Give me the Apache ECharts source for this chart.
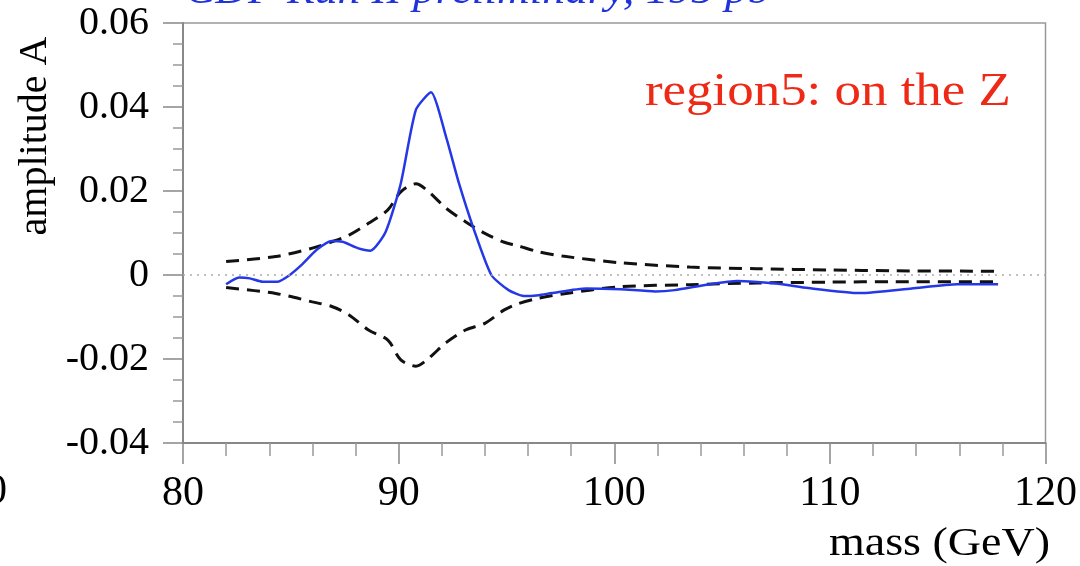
<!DOCTYPE html>
<html>
<head>
<meta charset="utf-8">
<script src="https://cdn.jsdelivr.net/npm/echarts@6/dist/echarts.min.js"></script>
<style>
  html, body { margin: 0; padding: 0; background: #fff; }
  #chart { width: 1080px; height: 566px; }
</style>
</head>
<body>
<div id="chart"></div>
<script>
// measured amplitude (blue)
const massFit = [82.0, 82.6, 83.1, 83.7, 84.4, 84.9, 85.5, 86.2, 86.9, 87.4, 88.1, 88.7, 89.4, 90.1, 90.8, 91.5, 92.2, 92.8, 93.5, 94.3, 95.1, 95.8, 96.5, 97.1, 98.7, 100.3, 101.9, 102.8, 104.3, 105.7, 107.5, 109.0, 111.4, 113.8, 115.9, 117.8];
const ampFit = [-0.0022, -0.0006, -0.0008, -0.0016, -0.0016, -0.0002, 0.0024, 0.0060, 0.0081, 0.0079, 0.0064, 0.0058, 0.0103, 0.0218, 0.0393, 0.0435, 0.0329, 0.0218, 0.0107, 0.0000, -0.0036, -0.0050, -0.0048, -0.0043, -0.0032, -0.0034, -0.0039, -0.0036, -0.0023, -0.0014, -0.0020, -0.0031, -0.0043, -0.0032, -0.0022, -0.0022];

// expected band (black dashed)
const massBand = [82.0, 84.3, 86.0, 86.9, 87.7, 88.6, 89.5, 90.1, 90.8, 91.4, 92.2, 93.1, 94.0, 94.9, 95.5, 96.5, 97.6, 100.3, 103.5, 106.6, 110.0, 113.0, 117.8];
const bandUpper = [0.0032, 0.0044, 0.0064, 0.0079, 0.0095, 0.0123, 0.0155, 0.0198, 0.0217, 0.0198, 0.0159, 0.0127, 0.0099, 0.0078, 0.0070, 0.0055, 0.0045, 0.0029, 0.0019, 0.0015, 0.0012, 0.0010, 0.0009];
const bandLower = [-0.0030, -0.0044, -0.0064, -0.0075, -0.0095, -0.0131, -0.0155, -0.0202, -0.0217, -0.0198, -0.0161, -0.0131, -0.0115, -0.0083, -0.0069, -0.0055, -0.0045, -0.0028, -0.0023, -0.0019, -0.0017, -0.0016, -0.0016];

const font = 'Liberation Serif';
const zip = (xs, ys) => xs.map((x, i) => [x, ys[i]]);

const dashed = {
  color: '#111',
  width: 3,
  type: [13, 8]
};

const chart = echarts.init(document.getElementById('chart'));

chart.setOption({
  animation: false,
  grid: {
    left: 183,
    right: 28,
    top: 23,
    bottom: 123,
    show: true,
    borderColor: '#999',
    borderWidth: 1.5
  },
  xAxis: {
    type: 'value',
    min: 80,
    max: 120,
    interval: 10,
    axisLine: { onZero: false, lineStyle: { color: '#888', width: 2 } },
    axisTick: { length: 21, lineStyle: { color: '#888', width: 1.5 } },
    minorTick: { show: true, splitNumber: 5, length: 13, lineStyle: { color: '#999', width: 1.5 } },
    splitLine: { show: false },
    axisLabel: { color: '#000', fontFamily: font, fontSize: 42, margin: 30 }
  },
  yAxis: {
    type: 'value',
    min: -0.04,
    max: 0.06,
    interval: 0.02,
    axisLine: { show: true, lineStyle: { color: '#888', width: 2 } },
    axisTick: { show: true, length: 20, lineStyle: { color: '#888', width: 1.5 } },
    minorTick: { show: true, splitNumber: 4, length: 10, lineStyle: { color: '#999', width: 1.5 } },
    splitLine: { show: false },
    axisLabel: {
      color: '#000', fontFamily: font, fontSize: 40, margin: 34,
      formatter: v => (Math.abs(v) < 1e-9 ? '0' : String(Math.round(v * 100) / 100))
    }
  },
  series: [
    {
      type: 'line',
      data: zip(massBand, bandUpper),
      showSymbol: false,
      smooth: 0.3,
      lineStyle: dashed
    },
    {
      type: 'line',
      data: zip(massBand, bandLower),
      showSymbol: false,
      smooth: 0.3,
      lineStyle: dashed
    },
    {
      type: 'line',
      data: zip(massFit, ampFit),
      showSymbol: false,
      smooth: 0.2,
      lineStyle: { color: '#2538e6', width: 2.5 },
      markLine: {
        silent: true,
        symbol: 'none',
        label: { show: false },
        lineStyle: { color: '#aaa', width: 1.5, type: [2, 5] },
        data: [{ yAxis: 0 }]
      }
    }
  ],
  graphic: [
    {
      type: 'text', x: 185, y: -29, scaleX: 1.08,
      style: {
        text: 'CDF Run II preliminary, 195 pb⁻¹',
        font: 'italic 42px "Liberation Serif"', fill: '#1f32dc'
      }
    },
    {
      type: 'text', x: 645, y: 93, scaleX: 1.15,
      style: {
        text: 'region5: on the Z', font: '46px "Liberation Serif"', fill: '#ee2a16',
        verticalAlign: 'middle'
      }
    },
    {
      type: 'text', x: 35, y: 136, rotation: Math.PI / 2,
      style: {
        text: 'amplitude A', font: '40px "Liberation Serif"', fill: '#000',
        align: 'center', verticalAlign: 'middle'
      }
    },
    {
      type: 'text', x: 1050, y: 544, scaleX: 1.15,
      style: {
        text: 'mass (GeV)', font: '40px "Liberation Serif"', fill: '#000',
        align: 'right', verticalAlign: 'middle'
      }
    },
    {
      type: 'text', x: -14, y: 492,
      style: { text: '0', font: '42px "Liberation Serif"', fill: '#000', verticalAlign: 'middle' }
    }
  ]
});
</script>
</body>
</html>
